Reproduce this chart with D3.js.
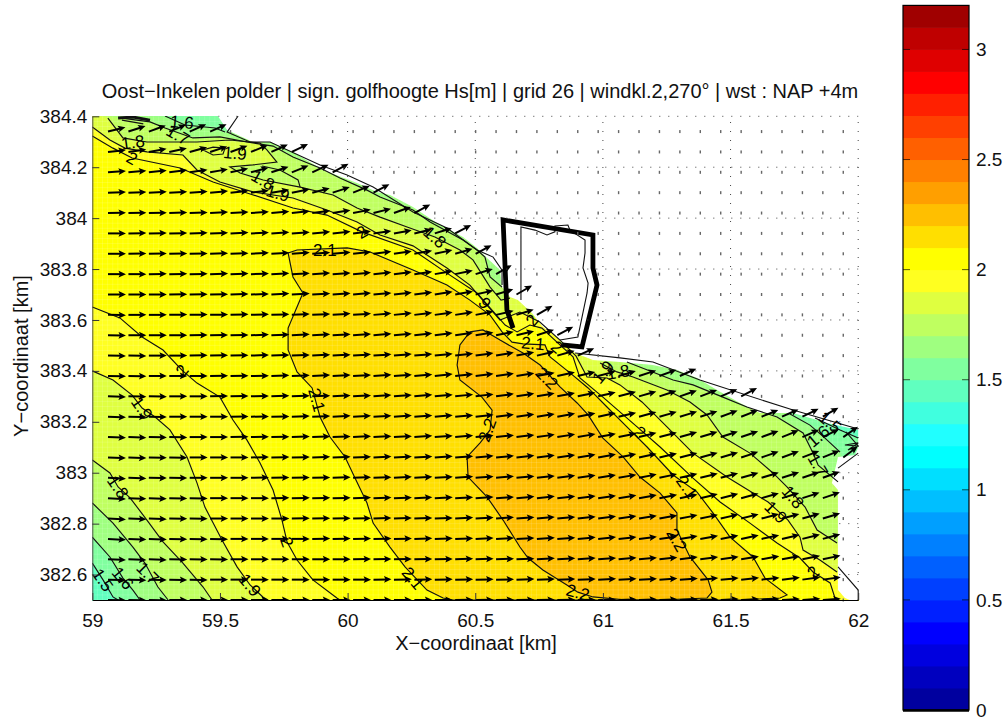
<!DOCTYPE html>
<html><head><meta charset="utf-8">
<style>html,body{margin:0;padding:0;background:#fff}svg{display:block}text{font-family:"Liberation Sans",Arial,sans-serif;fill:#111}</style>
<script src="https://cdn.jsdelivr.net/npm/d3@7"></script>
</head><body><div id="chart"></div>
<script>
const titleText="Oost\u2212Inkelen polder | sign. golfhoogte Hs[m] | grid 26 | windkl.2,270\u00b0 | wst : NAP +4m";
const xLabel="X\u2212coordinaat [km]", yLabel="Y\u2212coordinaat [km]";
const xTicks=[59,59.5,60,60.5,61,61.5,62];
const yTicks=[382.6,382.8,383,383.2,383.4,383.6,383.8,384,384.2,384.4];
const cbTicks=[0,0.5,1,1.5,2,2.5,3];
const colormap=["#00009f","#0000bf","#0000df","#0000ff","#0020ff","#0040ff","#0060ff","#0080ff","#009fff","#00bfff","#00dfff","#00ffff","#20ffff","#40ffdf","#60ffbf","#80ff9f","#9fff80","#bfff60","#dfff40","#ffff20","#ffff00","#ffdf00","#ffbf00","#ff9f00","#ff8000","#ff6000","#ff4000","#ff2000","#ff0000","#df0000","#bf0000","#a00000"];

const h22=[[60.479,383.553],[60.530,383.561],[60.597,383.521],[60.687,383.470],[60.754,383.423],[60.832,383.337],[60.899,383.274],[60.942,383.227],[61.000,383.136],[61.079,383.062],[61.145,382.983],[61.224,382.920],[61.290,382.842],[61.290,382.775],[61.341,382.669],[61.412,382.579],[61.427,382.531],[61.408,382.508],[61.224,382.5],[61.094,382.5],[60.961,382.512],[60.902,382.531],[60.859,382.559],[60.765,382.618],[60.707,382.665],[60.675,382.708],[60.609,382.814],[60.546,382.905],[60.472,382.983],[60.468,383.062],[60.519,383.117],[60.558,383.168],[60.566,383.246],[60.526,383.297],[60.440,383.364],[60.429,383.423],[60.440,383.502],[60.479,383.553]];
const h21=[[59.767,383.863],[59.802,383.875],[59.998,383.883],[60.088,383.867],[60.256,383.796],[60.389,383.737],[60.479,383.678],[60.558,383.619],[60.605,383.553],[60.644,383.513],[60.687,383.506],[60.773,383.502],[60.793,383.455],[60.871,383.392],[60.942,383.333],[61.016,383.258],[61.094,383.180],[61.173,383.101],[61.275,382.991],[61.369,382.924],[61.431,382.842],[61.498,382.747],[61.588,382.669],[61.635,382.586],[61.721,382.520],[61.694,382.508],[61.537,382.5],[60.413,382.5],[60.374,382.508],[60.311,382.539],[60.225,382.630],[60.166,382.708],[60.100,382.802],[60.076,382.881],[60.029,382.979],[59.990,383.062],[59.931,383.140],[59.892,383.219],[59.861,383.333],[59.802,383.396],[59.767,383.482],[59.767,383.568],[59.825,383.706],[59.786,383.769],[59.767,383.863]];
const h20Top=[[59,384.323],[59.081,384.275],[59.156,384.236],[59.344,384.197],[59.473,384.142],[59.606,384.099],[59.786,384.040],[59.919,384.012],[60.056,383.946],[60.256,383.875],[60.389,383.784],[60.507,383.706],[60.558,383.647],[60.617,383.580],[60.664,383.553],[60.714,383.580],[60.761,383.568],[60.820,383.513],[60.883,383.455],[60.910,383.372],[61.000,383.297],[61.134,383.180],[61.224,383.101],[61.353,382.979],[61.459,382.885],[61.576,382.802],[61.682,382.724],[61.772,382.665],[61.823,382.610],[61.890,382.567],[61.909,382.508],[61.913,382.5]];
const h20Left=[[59.970,382.5],[59.958,382.508],[59.864,382.579],[59.802,382.657],[59.763,382.728],[59.743,382.814],[59.708,382.932],[59.657,383.038],[59.606,383.128],[59.551,383.207],[59.500,383.297],[59.410,383.352],[59.351,383.403],[59.277,383.482],[59.195,383.533],[59.108,383.608],[59,383.651]];
const h19Top=[[59,384.358],[59.069,384.307],[59.128,384.275],[59.214,384.260],[59.355,384.248],[59.410,384.189],[59.500,384.142],[59.629,384.103],[59.786,384.079],[59.919,384.032],[60.037,383.985],[60.127,383.934],[60.256,383.891],[60.389,383.804],[60.479,383.737],[60.538,383.667],[60.597,383.600],[60.675,383.631],[60.753,383.592],[60.832,383.521],[60.895,383.458],[60.938,383.376],[61.016,383.372],[61.067,383.345],[61.153,383.278],[61.251,383.180],[61.353,383.077],[61.486,382.983],[61.588,382.920],[61.647,382.885],[61.725,382.814],[61.772,382.747],[61.784,382.696],[61.850,382.657],[61.917,382.610]];
const h19Left=[[59.688,382.5],[59.668,382.512],[59.618,382.559],[59.567,382.630],[59.508,382.736],[59.441,382.865],[59.410,382.960],[59.371,383.062],[59.304,383.168],[59.246,383.219],[59.195,383.254],[59.156,383.305],[59.081,383.364],[59,383.400]];
const h19Blob=[[59.434,384.268],[59.473,384.248],[59.512,384.252],[59.520,384.275],[59.473,384.279],[59.434,384.268]];
const h18Top=[[59.061,384.393],[59.120,384.315],[59.214,384.299],[59.410,384.299],[59.539,384.307],[59.657,384.295],[59.684,384.268],[59.723,384.220],[59.629,384.209],[59.539,384.201],[59.579,384.177],[59.669,384.150],[59.814,384.122],[59.943,384.091],[60.037,384.040],[60.127,384.004],[60.233,383.965],[60.342,383.926],[60.440,383.875],[60.491,383.836],[60.558,383.729],[60.601,383.678],[60.636,383.686]];
const h18Right=[[60.989,383.431],[61.055,383.396],[61.118,383.376],[61.251,383.325],[61.341,383.278],[61.408,383.227],[61.470,383.140],[61.576,383.077],[61.666,382.999],[61.721,382.944],[61.792,382.865],[61.839,382.775],[61.917,382.724]];
const h18Left=[[59.469,382.5],[59.434,382.551],[59.355,382.645],[59.277,382.728],[59.214,382.814],[59.148,382.901],[59.101,382.944],[59.069,382.999],[59,383.050]];
const h18Blob=[[59.665,384.205],[59.735,384.189],[59.806,384.150],[59.814,384.122]];
const h17Top=[[59.116,384.393],[59.226,384.378],[59.285,384.354],[59.394,384.315],[59.500,384.319],[59.606,384.299],[59.708,384.283],[59.786,384.240],[59.892,384.197],[59.970,384.158],[60.076,384.110],[60.127,384.083],[60.256,384.032],[60.323,383.985],[60.452,383.914],[60.507,383.875],[60.538,383.847],[60.558,383.769],[60.605,383.729]];
const h17Right=[[61.094,383.435],[61.275,383.364],[61.353,383.345],[61.470,383.297],[61.564,383.258],[61.682,383.219],[61.784,383.156],[61.823,383.077],[61.843,383.030],[61.921,382.964]];
const h17Left=[[59.297,382.5],[59.257,382.551],[59.206,382.645],[59.159,382.708],[59.081,382.802],[59,382.881]];
const h16Top=[[59.285,384.401],[59.363,384.366],[59.481,384.354],[59.520,384.338]];
const h16Right=[[61.733,383.231],[61.811,383.187],[61.870,383.136],[61.929,383.081]];
const h16Left=[[59.187,382.5],[59.159,382.539],[59.120,382.586],[59.069,382.669],[59,382.747]];
const h15Left=[[59.101,382.5],[59.081,382.512],[59.042,382.579],[59,382.645]];
const h15Right=[[61.831,383.215],[61.929,383.168],[62,383.136]];
const clusterTop=[[59.101,384.393],[59.159,384.397],[59.226,384.385]];
const clusterRight=[[61.952,383.160],[62,383.105],[61.948,383.109],[62,383.117],[61.960,383.089],[62,383.105]];

const land=[[59.492,384.401],[59.528,384.346],[59.629,384.299],[59.696,384.299],[59.786,384.260],[59.904,384.189],[60.037,384.138],[60.115,384.103],[60.166,384.091],[60.256,384.044],[60.350,383.981],[60.452,383.926],[60.507,383.883],[60.546,383.843],[60.597,383.796],[60.605,383.729],[60.636,383.690],[60.667,383.678],[60.722,383.627],[60.765,383.572],[60.824,383.529],[60.891,383.470],[60.961,383.443],[61.067,383.435],[61.196,383.423],[61.290,383.403],[61.369,383.372],[61.447,383.325],[61.537,383.274],[61.615,383.235],[61.745,383.235],[61.878,383.195],[62,383.168],[62,383.101],[61.988,383.070],[61.921,383.062],[61.897,382.960],[61.921,382.932],[61.921,382.539],[61.948,382.508],[61.967,382.5],[62.1,382.5],[62.1,384.45],[59.492,384.45]];
const dikeA=[[59.571,384.401],[59.528,384.338],[59.618,384.299],[59.696,384.299],[59.892,384.209],[59.998,384.169],[60.100,384.122],[60.256,384.024],[60.389,383.961],[60.507,383.875],[60.570,383.847],[60.605,383.796],[60.605,383.737]];
const dikeB=[[60.891,383.470],[61.067,383.451],[61.196,383.435],[61.380,383.364],[61.745,383.246],[62,383.172]];
const dikeC=[[61.921,383.018],[62,383.077]];
const dikeD=[[61.921,382.630],[62,382.539],[62,382.5]];
const polderInner=[[60.679,383.678],[60.679,383.965],[60.734,383.953],[60.781,383.934],[60.812,383.946],[60.812,383.969],[60.863,383.973],[60.871,383.953],[60.930,383.914],[60.930,383.863],[60.922,383.804],[60.942,383.745],[60.938,383.706],[60.902,383.533],[60.832,383.521]];
const polderThick=[[60.648,383.568],[60.624,383.639],[60.609,383.993],[60.961,383.934],[60.961,383.804],[60.977,383.737],[60.918,383.494],[60.840,383.502]];

const contourLabels=[["1.6",59.351,384.378,5],["1.7",59.336,384.327,30],["1.8",59.159,384.299,-8],["2",59.156,384.236,30],["1.9",59.559,384.256,5],["1.8",59.669,384.150,30],["1.9",59.727,384.099,15],["2",60.056,383.946,-30],["1.8",60.342,383.926,40],["2.1",59.911,383.875,0],["9",60.538,383.667,50],["2",60.722,383.600,-50],["2.1",60.726,383.509,5],["2",60.820,383.494,40],["2.2",60.781,383.372,45],["1.9",61.000,383.396,-50],["1.8",61.059,383.396,-10],["2",61.145,383.160,45],["2.1",61.330,382.944,55],["1.9",61.678,382.846,45],["1.8",61.745,382.905,50],["2",61.823,382.610,-40],["2.2",61.290,382.736,60],["2.2",60.902,382.531,15],["2.2",60.546,383.168,-70],["1.7",61.843,383.030,60],["1.6",61.843,383.144,-40],["1.5",61.890,383.199,40],["2.1",59.880,383.286,75],["1.9",59.195,383.254,55],["1.8",59.101,382.944,55],["2",59.351,383.403,-50],["2",59.763,382.728,70],["1.9",59.618,382.559,50],["2.1",60.256,382.586,50],["1.7",59.218,382.606,45],["1.6",59.120,382.586,50],["1.5",59.042,382.579,55]];

const arrowX0=59.0615, arrowStep=0.08, arrowY0=382.5, columnCount=37;
const arrowAngles=[
[-1,-1,-1,0,0,0,0,0,0,0,0,0,0,0,0,0,0,1,1,1,1,1,1,1,1,2,2,2,2,2,3,3,3,3,4,4],
[-2,-2,-1,-1,-1,0,0,0,0,0,0,0,0,1,1,1,1,1,1,1,2,2,2,2,3,3,3,4,4,5,5,6,6,7,8,8],
[-2,-2,-2,-1,-1,-1,0,0,0,0,0,0,1,1,1,1,1,2,2,2,2,3,3,4,4,5,5,6,7,7,8,9,10,10,11,12],
[-3,-2,-2,-1,-1,-1,0,0,0,0,1,1,1,1,1,2,2,2,3,3,3,4,4,5,6,6,7,8,9,10,11,12,12,13,14,15],
[-3,-2,-2,-1,-1,0,0,0,0,1,1,1,1,2,2,2,2,3,3,4,4,5,5,6,7,8,9,10,11,12,13,14,15,15,16,17],
[-3,-2,-2,-1,-1,0,0,0,1,1,1,1,2,2,2,3,3,3,4,4,5,6,6,7,8,9,10,11,12,13,14,15,16,17,18,19],
[-3,-2,-1,-1,0,0,0,1,1,1,1,2,2,2,3,3,3,4,4,5,5,6,7,8,9,10,11,12,13,14,15,16,17,18,19,20],
[-2,-2,-1,-1,0,0,0,1,1,1,2,2,2,3,3,3,4,4,5,5,6,7,8,9,10,11,12,13,14,15,16,18,19,20,21,22,37],
[-2,-2,-1,-1,0,0,1,1,1,2,2,2,3,3,3,4,4,5,5,6,7,8,9,10,11,12,14,15,16,17,18,19,20,22,24,26,35],
[-2,-1,-1,0,0,0,1,1,1,2,2,3,3,3,4,4,5,5,6,7,8,9,10,11,12,13,15,16,17,18,20,21,22,24,26,30],
[-2,-1,-1,0,0,1,1,1,2,2,2,3,3,4,4,5,5,6,7,8,9,10,11,12,13,15,16,18,19,21,23,28],
[-1,-1,0,0,0,1,1,1,2,2,3,3,3,4,4,5,6,6,7,8,9,10,12,13,15,16,18,20,24],
[-1,-1,0,0,1,1,1,2,2,2,3,3,4,4,5,5,6,7,8,10,11,13,16,24],
[-1,0,0,0,1,1,1,2,2,3,3,3,4,5,5,6,7,8,9,11,13,18,28],
[-1,0,0,1,1,1,2,2,2,3,3,4,4,5,6,7,8,9,11,13,17,30],
[0,0,0,1,1,1,2,2,3,3,3,4,5,5,6,7,9,10,13,17,30],
[0,0,1,1,1,2,2,2,3,3,4,4,5,6,7,8,10,12,17,30],
[0,1,1,1,1,2,2,3,3,4,4,5,6,7,8,10,12,16,28],
[0,1,1,1,2,2,3,3,4,4,5,6,7,8,10,13,17,28],
[1,1,1,2,2,3,3,4,5,6,7,9,11,14,20,28],
[2,2,3,3,4,5,6,7,9,11,14,18,22,28],
[4,5,6,7,8,10,12,15,18,22,25,28],
[6,8,10,12,15,18,20,22,24,26],
[14,18,20,22,24,24]];

const W=1008,H=722;
const x=d3.scaleLinear().domain([59,62]).range([92.3,858.2]);
const y=d3.scaleLinear().domain([382.5,384.4]).range([600,116.3]);
const cb=d3.scaleLinear().domain([0,3.2]).range([710,5.4]);
const svg=d3.select("#chart").append("svg").attr("width",W).attr("height",H);
const line=d3.line().x(d=>x(d[0])).y(d=>y(d[1]));
const defs=svg.append("defs");
defs.append("clipPath").attr("id","plot").append("rect").attr("x",92).attr("y",116).attr("width",767).attr("height",485);
defs.append("clipPath").attr("id","landclip").append("path").attr("d",line(land)+"Z");
defs.append("filter").attr("id","soft").attr("x","-2%").attr("y","-2%").attr("width","104%").attr("height","104%").append("feGaussianBlur").attr("stdDeviation",0.9);

const landPoint=[[61.0,384.42]], corner=[[62.05,382.45]], topLeft=[[58.98,384.42]];
const bands=[
 [15,[[58.98,384.42],[62.05,384.42],[62.05,382.45],[58.98,382.45]]],
 [16,[...topLeft,...h16Top,...landPoint,...h16Right,...corner,...h16Left,[58.98,382.7]]],
 [14,[...h15Left,[58.98,382.6],[58.98,382.45],[59.11,382.45]]],
 [14,[...h15Right,[62.05,383.13],[62.05,383.3],[61.82,383.3]]],
 [17,[...topLeft,...h17Top,...landPoint,...h17Right,...corner,...h17Left,[58.98,382.86]]],
 [18,[...topLeft,...h18Top,...landPoint,...h18Right,...corner,...h18Left,[58.98,383.04]]],
 [19,[[58.98,384.37],...h19Top,...corner,...h19Left,[58.98,383.41]]],
 [20,[[58.98,384.33],...h20Top,[61.92,382.45],[59.97,382.45],...h20Left,[58.98,383.66]]],
 [21,h21],[22,h22]];

const plot=svg.append("g").attr("clip-path","url(#plot)");
const field=plot.append("g").attr("filter","url(#soft)");
field.selectAll("path").data(bands).join("path").attr("d",d=>line(d[1])+"Z").attr("fill",d=>colormap[d[0]]);
const mesh=plot.append("g").attr("stroke","#fff").attr("stroke-opacity",0.13).attr("stroke-width",1);
d3.range(59,62,0.02).forEach(v=>mesh.append("line").attr("x1",x(v)).attr("x2",x(v)).attr("y1",y(382.5)).attr("y2",y(384.4)));
d3.range(382.5,384.4,0.02).forEach(v=>mesh.append("line").attr("y1",y(v)).attr("y2",y(v)).attr("x1",x(59)).attr("x2",x(62)));
plot.append("path").attr("d",line(land)+"Z").attr("fill","#fff");

const gridG=svg.append("g").attr("clip-path","url(#landclip)").attr("stroke","#444").attr("stroke-width",1).attr("stroke-dasharray","1 8");
xTicks.forEach(v=>gridG.append("line").attr("x1",x(v)).attr("x2",x(v)).attr("y1",y(382.5)).attr("y2",y(384.4)));
yTicks.forEach(v=>gridG.append("line").attr("y1",y(v)).attr("y2",y(v)).attr("x1",x(59)).attr("x2",x(62)));
const dots=[],arrows=[];
for(let r=0;r<arrowAngles.length;r++){for(let c=0;c<columnCount;c++){
  const p={x:x(arrowX0+c*arrowStep),y:y(arrowY0+r*arrowStep)};
  if(c<arrowAngles[r].length)arrows.push({...p,a:arrowAngles[r][c]});else dots.push(p);
}}
svg.append("g").selectAll("rect").data(dots).join("rect").attr("x",d=>d.x-0.7).attr("y",d=>d.y-1.5).attr("width",1.4).attr("height",3).attr("fill","#666");

const contourG=plot.append("g").attr("fill","none").attr("stroke","#111").attr("stroke-width",1.15);
[h22,h21,h20Top,h20Left,h19Top,h19Left,h19Blob,h18Top,h18Right,h18Left,h18Blob,h17Top,h17Right,h17Left,h16Top,h16Right,h16Left,h15Left,h15Right,clusterRight,[[59.116,384.385],[59.2,384.37]]]
 .forEach(l=>contourG.append("path").attr("d",line(l)));
plot.append("path").attr("d",line(clusterTop)).attr("fill","none").attr("stroke","#111").attr("stroke-width",3);

const outlineG=plot.append("g").attr("fill","none").attr("stroke","#111").attr("stroke-width",1.1);
[dikeA,dikeB,dikeC,dikeD,polderInner].forEach(l=>outlineG.append("path").attr("d",line(l)));

const arrowLen=18;
const aG=plot.append("g");
aG.selectAll("g").data(arrows).join("g").attr("transform",d=>`translate(${d.x},${d.y}) rotate(${-d.a})`).each(function(){
  const g=d3.select(this);
  g.append("line").attr("x1",0).attr("x2",arrowLen-4).attr("y1",0).attr("y2",0).attr("stroke","#000").attr("stroke-width",2);
  g.append("path").attr("d",`M${arrowLen},0L${arrowLen-7.5},-3.4L${arrowLen-6},0L${arrowLen-7.5},3.4Z`).attr("fill","#000");
});

plot.append("path").attr("d",line(polderThick)).attr("fill","none").attr("stroke","#000").attr("stroke-width",4.8).attr("stroke-linejoin","miter");

svg.append("g").selectAll("text").data(contourLabels).join("text")
 .attr("transform",d=>`translate(${x(d[1])},${y(d[2])}) rotate(${d[3]})`)
 .attr("text-anchor","middle").attr("dy","0.36em").attr("font-size",17).style("fill","#000").text(d=>d[0]);

const fmt=v=>String(+v.toFixed(1));
const xA=d3.axisBottom(x).tickValues(xTicks).tickFormat(fmt).tickSizeInner(-7).tickSizeOuter(0).tickPadding(13.5);
const yA=d3.axisLeft(y).tickValues(yTicks).tickFormat(fmt).tickSizeInner(-7).tickSizeOuter(0).tickPadding(5);
const gx=svg.append("g").attr("transform",`translate(0,${y(382.5)})`).call(xA);
const gy=svg.append("g").attr("transform",`translate(${x(59)},0)`).call(yA);
[gx,gy].forEach(g=>{g.selectAll("text").attr("font-size",19).attr("fill","#111");g.selectAll("line").attr("stroke","#333");});
gx.select(".domain").attr("stroke","#000");
gy.select(".domain").attr("stroke","#555");
svg.append("text").attr("x",480).attr("y",98).attr("text-anchor","middle").attr("font-size",20).text(titleText);
svg.append("text").attr("x",476).attr("y",650).attr("text-anchor","middle").attr("font-size",20).text(xLabel);
svg.append("text").attr("transform","translate(28,356) rotate(-90)").attr("text-anchor","middle").attr("font-size",20).text(yLabel);

const cbX0=903, cbX1=969;
svg.append("g").selectAll("rect").data(colormap).join("rect").attr("x",cbX0).attr("width",cbX1-cbX0)
 .attr("y",(d,i)=>cb(i*0.1+0.1)).attr("height",(d,i)=>cb(i*0.1)-cb(i*0.1+0.1)+0.5).attr("fill",d=>d);
svg.append("rect").attr("x",cbX0).attr("y",cb(3.2)).attr("width",cbX1-cbX0).attr("height",cb(0)-cb(3.2)).attr("fill","none").attr("stroke","#000").attr("stroke-width",1.2);
svg.append("line").attr("x1",cbX0).attr("x2",cbX1).attr("y1",cb(0)+0.5).attr("y2",cb(0)+0.5).attr("stroke","#000").attr("stroke-width",2.5);
const cbA=d3.axisRight(cb).tickValues(cbTicks).tickFormat(fmt).tickSize(0).tickPadding(7);
const gc=svg.append("g").attr("transform",`translate(${cbX1},0)`).call(cbA);
gc.select(".domain").remove();
gc.selectAll("text").attr("font-size",19).attr("fill","#111");
const cbT=svg.append("g").attr("stroke","#000").attr("stroke-opacity",0.65);
cbTicks.forEach(v=>{cbT.append("line").attr("x1",cbX0).attr("x2",cbX0+7).attr("y1",cb(v)).attr("y2",cb(v));cbT.append("line").attr("x1",cbX1-7).attr("x2",cbX1).attr("y1",cb(v)).attr("y2",cb(v));});
</script></body></html>
